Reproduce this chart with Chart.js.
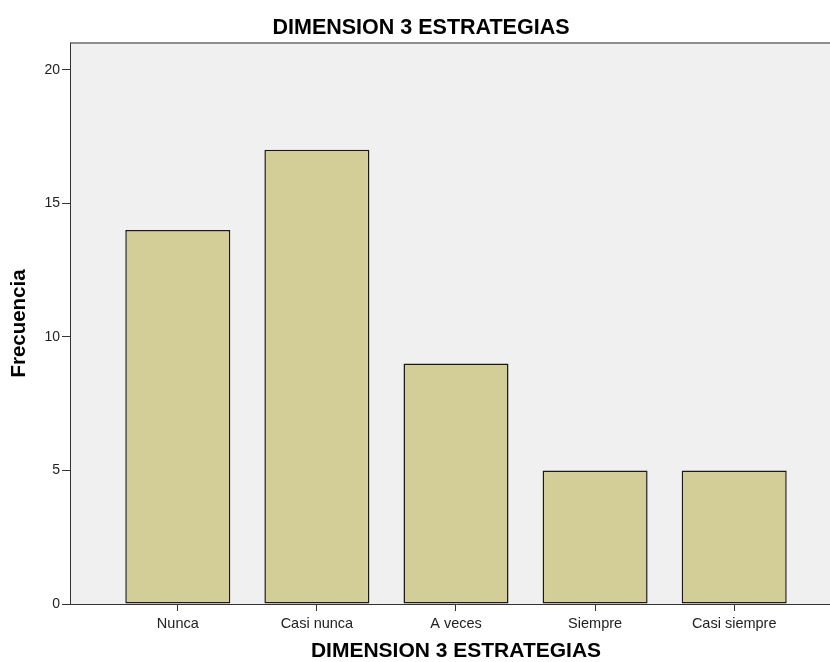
<!DOCTYPE html>
<html>
<head>
<meta charset="utf-8">
<title>DIMENSION 3 ESTRATEGIAS</title>
<script src="https://cdn.jsdelivr.net/npm/chart.js@4/dist/chart.umd.min.js"></script>
<style>
    html, body { margin: 0; padding: 0; background: #fff; }
    .wrap { width: 830px; height: 662px; overflow: hidden; }
</style>
</head>
<body>
<div class="wrap">
    <canvas id="myChart" width="842" height="662"></canvas>
</div>
<script>
// frecuencias por categoria
var categorias = ["Nunca", "Casi nunca", "A veces", "Siempre", "Casi siempre"];
var frecuencias = [14, 17, 9, 5, 5];
var yTicks = [0, 5, 10, 15, 20];

var titulo = "DIMENSION 3 ESTRATEGIAS";
var fuente = "'Liberation Sans', Arial, sans-serif";

// fondo gris del area de trazado + borde superior
var fondoPlot = {
    id: "fondoPlot",
    beforeDraw: function (chart) {
        var ctx = chart.ctx, a = chart.chartArea;
        ctx.save();
        ctx.fillStyle = "#f0f0f0";
        ctx.fillRect(a.left, a.top, a.right - a.left, a.bottom - a.top);
        ctx.strokeStyle = "#8c8c8c";
        ctx.lineWidth = 2;
        ctx.beginPath();
        ctx.moveTo(a.left, a.top);
        ctx.lineTo(a.right, a.top);
        ctx.stroke();
        ctx.restore();
    }
};

var puntos = [];
frecuencias.map(function (f, i) {
    puntos.push({ x: i, y: f });
});

new Chart("myChart", {
    type: "bar",
    data: {
        datasets: [{
            data: puntos,
            backgroundColor: "#d3ce97",
            borderColor: "#1a1a1a",
            borderWidth: 1.5,
            borderSkipped: false,
            categoryPercentage: 1,
            barPercentage: 0.755
        }]
    },
    options: {
        responsive: false,
        animation: false,
        layout: { padding: 0 },
        plugins: {
            legend: { display: false },
            tooltip: { enabled: false },
            title: {
                display: true,
                text: titulo,
                color: "#000",
                font: { family: fuente, size: 21.5, weight: "bold", lineHeight: 1.2 },
                padding: { top: 15, bottom: 2.2 }
            }
        },
        scales: {
            x: {
                type: "linear",
                offset: false,
                min: -0.775,
                max: 4.775,
                afterBuildTicks: function (scale) {
                    scale.ticks = categorias.map(function (c, i) { return { value: i }; });
                },
                afterFit: function (scale) { scale.height = 58; },
                ticks: {
                    autoSkip: false,
                    maxRotation: 0,
                    padding: 4,
                    color: "#222",
                    font: { family: fuente, size: 14.5 },
                    callback: function (v) { return categorias[v]; }
                },
                grid: {
                    offset: false,
                    drawOnChartArea: false,
                    tickLength: 7,
                    tickColor: "#333"
                },
                border: { display: true, color: "#333", width: 1 },
                title: {
                    display: true,
                    text: titulo,
                    color: "#000",
                    font: { family: fuente, size: 21, weight: "bold", lineHeight: 1 },
                    padding: { top: 0, bottom: 0 }
                }
            },
            y: {
                min: 0,
                max: 21,
                afterBuildTicks: function (scale) {
                    scale.ticks = yTicks.map(function (v) { return { value: v }; });
                },
                afterFit: function (scale) { scale.width = 70; },
                ticks: {
                    padding: 2,
                    color: "#222",
                    font: { family: fuente, size: 14 }
                },
                grid: {
                    drawOnChartArea: false,
                    tickLength: 8,
                    tickColor: "#333"
                },
                border: { display: true, color: "#333", width: 1 },
                title: {
                    display: true,
                    text: "Frecuencia",
                    color: "#000",
                    font: { family: fuente, size: 20.5, weight: "bold", lineHeight: 1 },
                    padding: { top: 9, bottom: 0 }
                }
            }
        }
    },
    plugins: [fondoPlot]
});
</script>
</body>
</html>
